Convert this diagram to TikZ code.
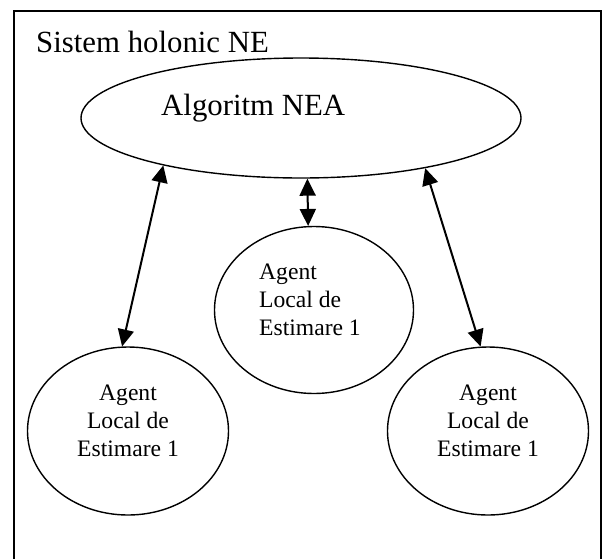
\documentclass[tikz,border=0pt]{standalone}
\usepackage{fontspec}
\setmainfont{Liberation Serif}
\usetikzlibrary{arrows.meta,shapes.geometric}

\tikzset{
  frame/.style={line width=1.8pt},
  holon/.style={draw, ellipse, line width=1.4pt, inner sep=0pt},
  bigtext/.style={inner sep=0pt, font=\fontsize{30.8}{36}\selectfont},
  agenttext/.style={inner sep=0pt, font=\fontsize{23.6}{27.7}\selectfont},
  link/.style={line width=2pt,
    {Triangle[length=17pt,width=16pt]}-{Triangle[length=17pt,width=16pt]}}
}

\begin{document}
\begin{tikzpicture}[x=1pt,y=-1pt]
  \useasboundingbox (0,0) rectangle (603,558);
  \clip (0,0) rectangle (603,558);

  % outer system boundary (open at the bottom edge)
  \draw[frame] (14,11) rectangle (601,575);
  \node[bigtext, anchor=base west] (title) at (36,52) {Sistem holonic NE};

  % central algorithm
  \node[holon, minimum width=440pt, minimum height=120pt] (nea) at (301,118) {};
  \node[bigtext, anchor=base west] (nealabel) at (161,115) {Algoritm NEA};

  % local estimation agents
  \node[holon, minimum width=201pt, minimum height=168pt] (agl) at (128,431) {};
  \node[holon, minimum width=199pt, minimum height=167pt] (agm) at (314,310) {};
  \node[holon, minimum width=201pt, minimum height=168pt] (agr) at (488,431) {};

  \node[agenttext, align=center] (agltext) at (128,421) {Agent\\Local de\\Estimare 1};
  \node[agenttext, align=left, anchor=west] (agmtext) at (259,300) {Agent\\Local de\\Estimare 1};
  \node[agenttext, align=center] (agrtext) at (488,421) {Agent\\Local de\\Estimare 1};

  % bidirectional links
  \draw[link] (nea.199.4) -- (agl.94);
  \draw[link] (nea.276.7) -- (agm.94);
  \draw[link] (nea.338.7) -- (agr.95);
\end{tikzpicture}
\end{document}
